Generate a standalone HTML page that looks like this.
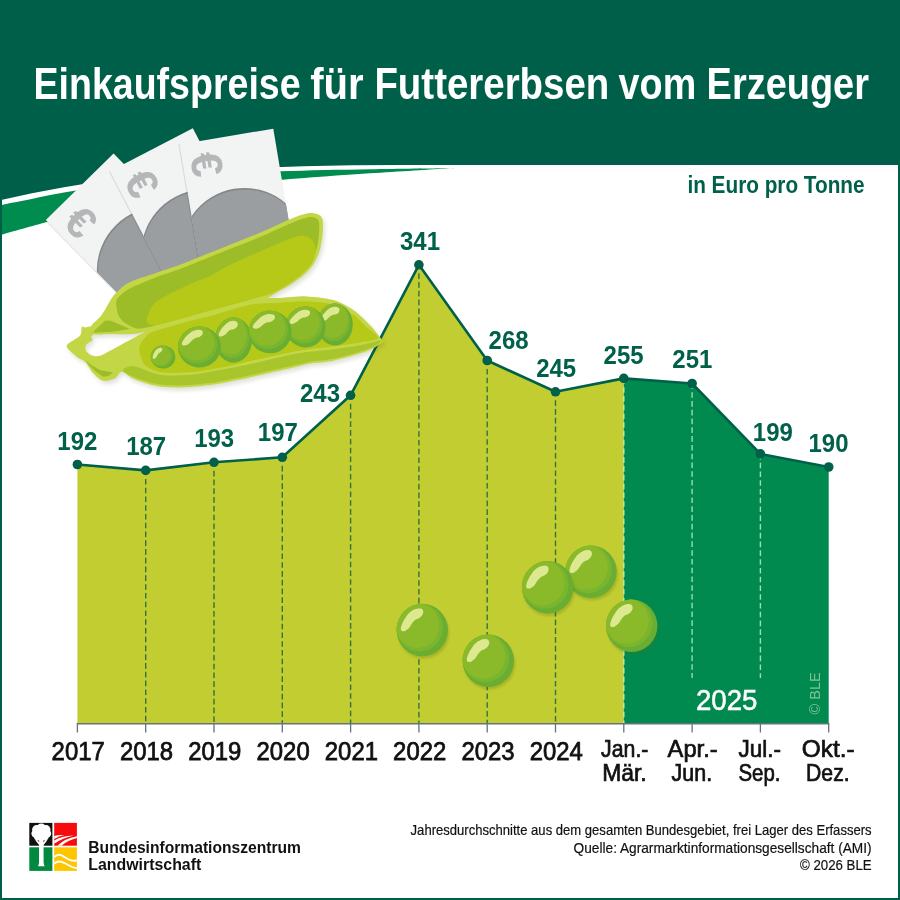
<!DOCTYPE html>
<html lang="de">
<head>
<meta charset="utf-8">
<title>Einkaufspreise für Futtererbsen vom Erzeuger</title>
<style>
html,body{margin:0;padding:0;background:#fff;width:900px;height:900px;overflow:hidden}
svg{display:block}
text{font-family:"Liberation Sans",sans-serif}
.b{font-weight:bold}
</style>
</head>
<body>
<svg width="900" height="900" viewBox="0 0 900 900">
<rect width="900" height="900" fill="#fff"/>
<!-- header -->
<path d="M0,0H900V165H450C300,165 150,165 0,200.3Z" fill="#005f49"/>
<path d="M0,205.2C5.8,204 23.3,200.5 35,198.2C46.7,195.9 52.5,194.4 70,191.5C87.5,188.6 116.7,183.8 140,181C163.3,178.2 186.7,176.4 210,174.8C233.3,173.2 253.3,172.1 280,171.2C306.7,170.3 342.2,169.7 370,169.2C397.8,168.7 434.2,168.3 447,168.2C459.8,168.1 459.8,167.6 447,168.4C434.2,169.2 397.8,171.4 370,173.3C342.2,175.2 306.7,177.6 280,180C253.3,182.4 233.3,184.4 210,187.5C186.7,190.6 160,194.8 140,198.5C120,202.2 105.8,206 90,210C74.2,214 60,218.2 45,222.4C30,226.6 7.5,232.9 0,235Z" fill="#008c4e"/>
<path d="M0,0H900V900H0Z M2,2V898H898V2Z" fill="#005f49" fill-rule="evenodd"/>
<rect x="0" y="0" width="900" height="20" fill="#005f49"/>
<!-- title -->
<text x="33.5" y="98.8" font-size="43.6" fill="#fff" textLength="267.1" lengthAdjust="spacingAndGlyphs" class="b">Einkaufspreise</text>
<text x="310.2" y="98.8" font-size="43.6" fill="#fff" textLength="53.5" lengthAdjust="spacingAndGlyphs" class="b">für</text>
<text x="374.4" y="98.8" font-size="43.6" fill="#fff" textLength="234.9" lengthAdjust="spacingAndGlyphs" class="b">Futtererbsen</text>
<text x="618.6" y="98.8" font-size="43.6" fill="#fff" textLength="77.6" lengthAdjust="spacingAndGlyphs" class="b">vom</text>
<text x="706.6" y="98.8" font-size="43.6" fill="#fff" textLength="162.4" lengthAdjust="spacingAndGlyphs" class="b">Erzeuger</text>
<text x="687.4" y="192.6" font-size="24" fill="#00604a" textLength="177.2" lengthAdjust="spacingAndGlyphs" class="b">in Euro pro Tonne</text>
<!-- chart -->
<path d="M77.4,723.2L77.4,464.5L145.7,470.4L214,462.3L282.3,457.3L350.6,395.3L418.9,264.8L487.2,360.5L555.5,391.8L623.8,378.4L623.8,723.2Z" fill="#c2cd32"/>
<path d="M623.8,723.2L623.8,378.4L692.1,383.5L760.4,453.9L828.7,467L828.7,723.2Z" fill="#008a4f"/>
<line x1="145.7" y1="478.9" x2="145.7" y2="723.2" stroke="#33743b" stroke-width="1.4" stroke-dasharray="5.6 3.17"/>
<line x1="214" y1="470.8" x2="214" y2="723.2" stroke="#33743b" stroke-width="1.4" stroke-dasharray="5.6 3.17"/>
<line x1="282.3" y1="465.8" x2="282.3" y2="723.2" stroke="#33743b" stroke-width="1.4" stroke-dasharray="5.6 3.17"/>
<line x1="350.6" y1="403.8" x2="350.6" y2="723.2" stroke="#33743b" stroke-width="1.4" stroke-dasharray="5.6 3.17"/>
<line x1="418.9" y1="273.3" x2="418.9" y2="723.2" stroke="#33743b" stroke-width="1.4" stroke-dasharray="5.6 3.17"/>
<line x1="487.2" y1="369" x2="487.2" y2="723.2" stroke="#33743b" stroke-width="1.4" stroke-dasharray="5.6 3.17"/>
<line x1="555.5" y1="400.3" x2="555.5" y2="723.2" stroke="#33743b" stroke-width="1.4" stroke-dasharray="5.6 3.17"/>
<line x1="623.8" y1="378.4" x2="623.8" y2="723.2" stroke="#b5eebc" stroke-width="1.4" stroke-dasharray="5.6 3.17"/>
<line x1="692.1" y1="383.5" x2="692.1" y2="678" stroke="#93e2aa" stroke-width="1.4" stroke-dasharray="5.6 3.17"/>
<line x1="760.4" y1="453.9" x2="760.4" y2="678" stroke="#93e2aa" stroke-width="1.4" stroke-dasharray="5.6 3.17"/>
<path d="M76.8,723.8H829.3" stroke="#66737f" stroke-width="1.5" fill="none"/>
<path d="M77.4,723.2V732.6M145.7,723.2V732.6M214,723.2V732.6M282.3,723.2V732.6M350.6,723.2V732.6M418.9,723.2V732.6M487.2,723.2V732.6M555.5,723.2V732.6M623.8,723.2V732.6M692.1,723.2V732.6M760.4,723.2V732.6M828.7,723.2V732.6" stroke="#66737f" stroke-width="1.3" fill="none"/>
<polyline points="77.4,464.5 145.7,470.4 214,462.3 282.3,457.3 350.6,395.3 418.9,264.8 487.2,360.5 555.5,391.8 623.8,378.4 692.1,383.5 760.4,453.9 828.7,467" fill="none" stroke="#00604a" stroke-width="2.6" stroke-linejoin="round"/>
<circle cx="77.4" cy="464.5" r="4.8" fill="#00604a"/>
<circle cx="145.7" cy="470.4" r="4.8" fill="#00604a"/>
<circle cx="214" cy="462.3" r="4.8" fill="#00604a"/>
<circle cx="282.3" cy="457.3" r="4.8" fill="#00604a"/>
<circle cx="350.6" cy="395.3" r="4.8" fill="#00604a"/>
<circle cx="418.9" cy="264.8" r="4.8" fill="#00604a"/>
<circle cx="487.2" cy="360.5" r="4.8" fill="#00604a"/>
<circle cx="555.5" cy="391.8" r="4.8" fill="#00604a"/>
<circle cx="623.8" cy="378.4" r="4.8" fill="#00604a"/>
<circle cx="692.1" cy="383.5" r="4.8" fill="#00604a"/>
<circle cx="760.4" cy="453.9" r="4.8" fill="#00604a"/>
<circle cx="828.7" cy="467" r="4.8" fill="#00604a"/>
<text x="57.3" y="449.7" font-size="25" fill="#00604a" textLength="40" lengthAdjust="spacingAndGlyphs" class="b">192</text>
<text x="126.2" y="455" font-size="25" fill="#00604a" textLength="40" lengthAdjust="spacingAndGlyphs" class="b">187</text>
<text x="194.2" y="446.7" font-size="25" fill="#00604a" textLength="40" lengthAdjust="spacingAndGlyphs" class="b">193</text>
<text x="257.8" y="440.7" font-size="25" fill="#00604a" textLength="40" lengthAdjust="spacingAndGlyphs" class="b">197</text>
<text x="300" y="401.6" font-size="25" fill="#00604a" textLength="40" lengthAdjust="spacingAndGlyphs" class="b">243</text>
<text x="400" y="249.8" font-size="25" fill="#00604a" textLength="40" lengthAdjust="spacingAndGlyphs" class="b">341</text>
<text x="488.6" y="349.1" font-size="25" fill="#00604a" textLength="40" lengthAdjust="spacingAndGlyphs" class="b">268</text>
<text x="536.2" y="376.5" font-size="25" fill="#00604a" textLength="40" lengthAdjust="spacingAndGlyphs" class="b">245</text>
<text x="603.6" y="363.6" font-size="25" fill="#00604a" textLength="40" lengthAdjust="spacingAndGlyphs" class="b">255</text>
<text x="672.3" y="368" font-size="25" fill="#00604a" textLength="40" lengthAdjust="spacingAndGlyphs" class="b">251</text>
<text x="752.8" y="440.5" font-size="25" fill="#00604a" textLength="40" lengthAdjust="spacingAndGlyphs" class="b">199</text>
<text x="808.5" y="452" font-size="25" fill="#00604a" textLength="40" lengthAdjust="spacingAndGlyphs" class="b">190</text>
<text x="51.6" y="759.8" font-size="25.4" fill="#111" textLength="53.2" lengthAdjust="spacingAndGlyphs" stroke="#111" stroke-width="0.75">2017</text>
<text x="119.9" y="759.8" font-size="25.4" fill="#111" textLength="53.2" lengthAdjust="spacingAndGlyphs" stroke="#111" stroke-width="0.75">2018</text>
<text x="188.2" y="759.8" font-size="25.4" fill="#111" textLength="53.2" lengthAdjust="spacingAndGlyphs" stroke="#111" stroke-width="0.75">2019</text>
<text x="256.5" y="759.8" font-size="25.4" fill="#111" textLength="53.2" lengthAdjust="spacingAndGlyphs" stroke="#111" stroke-width="0.75">2020</text>
<text x="324.8" y="759.8" font-size="25.4" fill="#111" textLength="53.2" lengthAdjust="spacingAndGlyphs" stroke="#111" stroke-width="0.75">2021</text>
<text x="393.1" y="759.8" font-size="25.4" fill="#111" textLength="53.2" lengthAdjust="spacingAndGlyphs" stroke="#111" stroke-width="0.75">2022</text>
<text x="461.4" y="759.8" font-size="25.4" fill="#111" textLength="53.2" lengthAdjust="spacingAndGlyphs" stroke="#111" stroke-width="0.75">2023</text>
<text x="529.7" y="759.8" font-size="25.4" fill="#111" textLength="53.2" lengthAdjust="spacingAndGlyphs" stroke="#111" stroke-width="0.75">2024</text>
<text x="601.1" y="757" font-size="23.6" fill="#111" textLength="47.3" lengthAdjust="spacingAndGlyphs" stroke="#111" stroke-width="0.7">Jan.-</text>
<text x="602.2" y="780.6" font-size="23.6" fill="#111" textLength="44.5" lengthAdjust="spacingAndGlyphs" stroke="#111" stroke-width="0.7">Mär.</text>
<text x="667.6" y="757" font-size="23.6" fill="#111" textLength="50" lengthAdjust="spacingAndGlyphs" stroke="#111" stroke-width="0.7">Apr.-</text>
<text x="671.6" y="780.6" font-size="23.6" fill="#111" textLength="40.5" lengthAdjust="spacingAndGlyphs" stroke="#111" stroke-width="0.7">Jun.</text>
<text x="738.6" y="757" font-size="23.6" fill="#111" textLength="42.5" lengthAdjust="spacingAndGlyphs" stroke="#111" stroke-width="0.7">Jul.-</text>
<text x="738.5" y="780.6" font-size="23.6" fill="#111" textLength="42" lengthAdjust="spacingAndGlyphs" stroke="#111" stroke-width="0.7">Sep.</text>
<text x="801.8" y="757" font-size="23.6" fill="#111" textLength="52.8" lengthAdjust="spacingAndGlyphs" stroke="#111" stroke-width="0.7">Okt.-</text>
<text x="806.1" y="780.6" font-size="23.6" fill="#111" textLength="43.5" lengthAdjust="spacingAndGlyphs" stroke="#111" stroke-width="0.7">Dez.</text>
<text x="695.9" y="709.7" font-size="28.6" fill="#fff" textLength="61.5" lengthAdjust="spacingAndGlyphs" stroke="#fff" stroke-width="0.5">2025</text>
<text transform="translate(819.6,714.4) rotate(-90)" font-size="14.3" fill="#7fc596" textLength="42" lengthAdjust="spacingAndGlyphs">© BLE</text>
<!-- footer -->
<text x="88.3" y="852.7" font-size="17" fill="#111" textLength="212.7" lengthAdjust="spacingAndGlyphs" class="b">Bundesinformationszentrum</text>
<text x="88.3" y="870.4" font-size="17" fill="#111" textLength="113" lengthAdjust="spacingAndGlyphs" class="b">Landwirtschaft</text>
<text x="410.6" y="835.3" font-size="15" fill="#111" textLength="461" lengthAdjust="spacingAndGlyphs" stroke="#111" stroke-width="0.2">Jahresdurchschnitte aus dem gesamten Bundesgebiet, frei Lager des Erfassers</text>
<text x="573.6" y="852.7" font-size="15" fill="#111" textLength="298" lengthAdjust="spacingAndGlyphs" stroke="#111" stroke-width="0.2">Quelle: Agrarmarktinformationsgesellschaft (AMI)</text>
<text x="800" y="870.3" font-size="15" fill="#111" textLength="71.6" lengthAdjust="spacingAndGlyphs" stroke="#111" stroke-width="0.2">© 2026 BLE</text>
<!-- illustrations -->
<defs><clipPath id="pc"><circle r="1"/></clipPath><g id="pea"><circle r="1" fill="#6aad33"/><g clip-path="url(#pc)"><ellipse cx="-0.11" cy="-0.10" rx="0.92" ry="0.92" fill="#79b52e"/><ellipse cx="-0.19" cy="-0.17" rx="0.85" ry="0.86" fill="#8aba29"/></g><path d="M-0.836,-0.015C-0.841,-0.052 -0.831,-0.112 -0.806,-0.179C-0.781,-0.246 -0.737,-0.338 -0.687,-0.418C-0.637,-0.498 -0.572,-0.595 -0.507,-0.657C-0.442,-0.719 -0.373,-0.764 -0.299,-0.791C-0.224,-0.818 -0.115,-0.831 -0.06,-0.821C-0.005,-0.811 0.018,-0.768 0.03,-0.731C0.042,-0.694 0.035,-0.639 0.015,-0.597C-0.005,-0.555 -0.043,-0.513 -0.09,-0.478C-0.137,-0.443 -0.219,-0.423 -0.269,-0.388C-0.319,-0.353 -0.348,-0.319 -0.388,-0.269C-0.428,-0.219 -0.462,-0.14 -0.507,-0.09C-0.552,-0.04 -0.612,0.007 -0.657,0.03C-0.702,0.052 -0.746,0.052 -0.776,0.045C-0.806,0.037 -0.831,0.022 -0.836,-0.015Z" fill="#dde991"/></g><clipPath id="nc"><rect width="95" height="150"/></clipPath><filter id="bl" x="-20%" y="-20%" width="140%" height="140%"><feGaussianBlur stdDeviation="1.2"/></filter><filter id="bl2" x="-10%" y="-10%" width="120%" height="120%"><feGaussianBlur stdDeviation="2"/></filter></defs>
<g id="notes">
<g transform="translate(45.8,220) rotate(-44.5)">
<rect x="-1.2" y="0" width="3" height="150" fill="#000" opacity="0.10"/>
<rect width="95" height="150" fill="#f2f3f3"/>
<g clip-path="url(#nc)"><circle cx="46.3" cy="116.3" r="63.5" fill="#85888a"/><circle cx="46.3" cy="118" r="63.5" fill="#9b9ea0"/></g>
<text class="b" transform="translate(24.2,25.9) rotate(90)" x="0" y="16" text-anchor="middle" font-size="44" fill="#b4b6b8">€</text>
</g>
<g transform="translate(110,171.3) rotate(-27.5)">
<rect x="-1.2" y="0" width="3" height="150" fill="#000" opacity="0.10"/>
<rect width="93.4" height="150" fill="#f2f3f3"/>
<g clip-path="url(#nc)"><circle cx="46.3" cy="116.3" r="63.5" fill="#85888a"/><circle cx="46.3" cy="118" r="63.5" fill="#9b9ea0"/></g>
<text class="b" transform="translate(23.4,25.5) rotate(90)" x="0" y="16" text-anchor="middle" font-size="44" fill="#b4b6b8">€</text>
</g>
<g transform="translate(179.6,144.4) rotate(-9.5)">
<rect x="-1.2" y="0" width="3" height="150" fill="#000" opacity="0.10"/>
<rect width="95" height="150" fill="#f2f3f3"/>
<g clip-path="url(#nc)"><circle cx="46.3" cy="116.3" r="63.5" fill="#85888a"/><circle cx="46.3" cy="118" r="63.5" fill="#9b9ea0"/></g>
<text class="b" transform="translate(24.2,24) rotate(90)" x="0" y="16" text-anchor="middle" font-size="44" fill="#b4b6b8">€</text>
</g>
</g>
<g id="pod">
<g transform="translate(2,3)" fill="#3a4a10" opacity="0.16" filter="url(#bl2)"><path d="M90.8,326.7C92.2,323.5 98.2,319.7 101.7,315C105.2,310.3 108.9,302.3 111.7,298.3C114.5,294.3 115.2,293.5 118.3,290.8C121.3,288.1 123.6,285 130,282C136.4,279 147.8,275.8 156.7,272.7C165.6,269.6 176.1,266.2 183.3,263.5C190.5,260.8 192.2,259.8 200,256.7C207.8,253.6 220,248.7 230,244.7C240,240.7 250,236.9 260,232.7C270,228.5 282.5,222.4 290,219.3C297.5,216.2 301,215 305,214C309,213 311.3,212.9 314,213.3C316.7,213.7 319.5,214.6 321,216.5C322.5,218.4 322.9,220.2 323,224.5C323.1,228.8 322.5,237 321.5,242.5C320.5,248 319.2,252.8 317,257.5C314.8,262.2 312,266.8 308,271C304,275.2 298.5,279.2 293,283C287.5,286.8 279.4,290.9 275,293.5C270.6,296.1 270.9,296.7 266.7,298.3C262.5,299.9 261.1,299.9 250,303C238.9,306.1 217.5,312.2 200,317C182.5,321.8 156.7,328.9 145,331.7C133.3,334.5 135.8,333.6 130,334C124.2,334.4 116.1,334 110,334C103.9,334 96.5,335.2 93.3,334C90.1,332.8 89.4,329.9 90.8,326.7Z"/><path d="M66.7,345.8C67.2,342.8 77.9,338.5 80,335.8C82.1,333.1 81,328.2 81.7,327C82.4,325.8 83.7,327.5 85,327.5C86.3,327.5 89.6,325.8 90.8,326.7C92,327.6 93.3,332.5 93.3,334C93.3,335.5 91.1,336.1 91,337C90.9,337.9 93.2,338.9 92.5,340C91.8,341.1 86.9,343.4 86,345C85.1,346.6 85.1,349.5 86,351C86.9,352.5 90,354.8 92,355.5C94,356.2 97.4,356.5 100,355.8C102.6,355.1 106.2,352.8 110,350.8C113.8,348.8 121.7,344.4 126.7,341.7C131.7,339 141.7,333.8 145,331.7C148.3,329.6 144.5,329.2 150,327.3C155.5,325.4 174.7,320.9 183.3,318.7C191.9,316.5 200.5,314.6 210,312C219.5,309.4 241.9,302.7 250,300.7C258.1,298.7 262.4,298.7 266.7,298.3C271,297.9 274.3,298.3 280,298C285.7,297.7 299.1,296.1 306.7,296.4C314.3,296.7 326.6,298.1 333.3,300C340,301.9 348,306.3 353.3,310C358.6,313.7 366.7,321.9 370.7,326C374.7,330.1 379.3,336.3 381,338.5C382.7,340.7 382.9,340.7 382.8,341.5C382.7,342.3 382.3,342.6 380,344C377.7,345.4 373.4,348.9 366.7,351.3C360,353.7 341.4,358.9 333.3,360.7C325.2,362.5 315.2,362.7 310,363.6C304.8,364.5 302.4,365.4 296.7,366.7C291,368 277.6,371 270,372.7C262.4,374.4 250.9,377.1 243.3,378.7C235.7,380.3 224.3,382.8 216.7,384C209.1,385.2 196.7,386.5 190,387C183.3,387.5 175.2,387.5 170,387.3C164.8,387.1 158.5,386.5 153.3,385.3C148.1,384.1 137.8,380.6 133.3,378.7C128.8,376.8 124.3,371.8 121.7,371.7C119.1,371.6 117.6,377 115,378.3C112.4,379.6 106.4,381.5 103.3,380.8C100.2,380.1 95.9,376 93.3,373.3C90.7,370.6 87.4,364.1 85,361.7C82.6,359.3 79.3,359 76.7,356.7C74.1,354.4 66.2,348.8 66.7,345.8Z"/></g>
<path d="M90.8,326.7C92.2,323.5 98.2,319.7 101.7,315C105.2,310.3 108.9,302.3 111.7,298.3C114.5,294.3 115.2,293.5 118.3,290.8C121.3,288.1 123.6,285 130,282C136.4,279 147.8,275.8 156.7,272.7C165.6,269.6 176.1,266.2 183.3,263.5C190.5,260.8 192.2,259.8 200,256.7C207.8,253.6 220,248.7 230,244.7C240,240.7 250,236.9 260,232.7C270,228.5 282.5,222.4 290,219.3C297.5,216.2 301,215 305,214C309,213 311.3,212.9 314,213.3C316.7,213.7 319.5,214.6 321,216.5C322.5,218.4 322.9,220.2 323,224.5C323.1,228.8 322.5,237 321.5,242.5C320.5,248 319.2,252.8 317,257.5C314.8,262.2 312,266.8 308,271C304,275.2 298.5,279.2 293,283C287.5,286.8 279.4,290.9 275,293.5C270.6,296.1 270.9,296.7 266.7,298.3C262.5,299.9 261.1,299.9 250,303C238.9,306.1 217.5,312.2 200,317C182.5,321.8 156.7,328.9 145,331.7C133.3,334.5 135.8,333.6 130,334C124.2,334.4 116.1,334 110,334C103.9,334 96.5,335.2 93.3,334C90.1,332.8 89.4,329.9 90.8,326.7Z" fill="#c3d646"/>
<path d="M116.7,300C117.8,297.5 120.3,295.2 123,293C125.7,290.8 127.2,289.7 133,287C138.8,284.3 149,280.1 157.5,276.8C166,273.6 176.8,270.2 184,267.5C191.2,264.8 193.2,263.8 201,260.6C208.8,257.5 221,252.6 231,248.6C241,244.6 251,240.8 261,236.6C271,232.4 283.6,226.4 291,223.3C298.4,220.2 301.8,219 305.5,218C309.2,217 310.9,216.9 313,217.2C315.1,217.5 316.9,218.5 318,220C319.1,221.5 319.3,222.3 319.3,226C319.3,229.7 318.9,236.9 318,242C317.1,247.1 315.8,252 313.7,256.5C311.6,261 309.2,265 305.5,269C301.8,273 296.8,276.9 291.5,280.5C286.2,284.1 278.4,288.1 274,290.5C269.6,292.9 277.3,291.2 265,295C252.7,298.8 219.7,307.6 200,313C180.3,318.4 158.1,325.2 146.7,327.5C135.3,329.8 136.1,328.3 131.7,326.7C127.2,325.1 122.5,321.1 120,318C117.5,314.9 117.2,311 116.7,308C116.2,305 115.7,302.5 116.7,300Z" fill="#9dbd28"/>
<path d="M147.3,322.7C145.4,320.8 147.6,316.4 148.7,313.3C149.8,310.2 151.6,306.7 154,304C156.4,301.3 158.4,300.1 163.3,297.3C168.2,294.5 177.2,290.2 183.3,287.3C189.4,284.4 195.6,281.9 200,280C204.4,278.1 205,278.5 210,276C215,273.5 221.7,269.1 230,265C238.3,260.9 250,255.9 260,251.5C270,247.1 283,241.3 290,238.7C297,236.1 298.5,235.7 302,235.7C305.5,235.7 308.8,236.6 311,238.7C313.2,240.8 315.2,244.6 315.5,248.5C315.8,252.4 314.5,258 312.5,262C310.5,266 307.2,269 303.5,272.5C299.8,276 295.2,279.6 290,283C284.8,286.4 278.7,290.4 272,293.2C265.3,295.9 262,296.1 250,299.5C238,302.9 215,309.3 200,313.5C185,317.7 168.8,323 160,324.5C151.2,326 149.2,324.6 147.3,322.7Z" fill="#b7c918"/>
<path d="M66.7,345.8C67.2,342.8 77.9,338.5 80,335.8C82.1,333.1 81,328.2 81.7,327C82.4,325.8 83.7,327.5 85,327.5C86.3,327.5 89.6,325.8 90.8,326.7C92,327.6 93.3,332.5 93.3,334C93.3,335.5 91.1,336.1 91,337C90.9,337.9 93.2,338.9 92.5,340C91.8,341.1 86.9,343.4 86,345C85.1,346.6 85.1,349.5 86,351C86.9,352.5 90,354.8 92,355.5C94,356.2 97.4,356.5 100,355.8C102.6,355.1 106.2,352.8 110,350.8C113.8,348.8 121.7,344.4 126.7,341.7C131.7,339 141.7,333.8 145,331.7C148.3,329.6 144.5,329.2 150,327.3C155.5,325.4 174.7,320.9 183.3,318.7C191.9,316.5 200.5,314.6 210,312C219.5,309.4 241.9,302.7 250,300.7C258.1,298.7 262.4,298.7 266.7,298.3C271,297.9 274.3,298.3 280,298C285.7,297.7 299.1,296.1 306.7,296.4C314.3,296.7 326.6,298.1 333.3,300C340,301.9 348,306.3 353.3,310C358.6,313.7 366.7,321.9 370.7,326C374.7,330.1 379.3,336.3 381,338.5C382.7,340.7 382.9,340.7 382.8,341.5C382.7,342.3 382.3,342.6 380,344C377.7,345.4 373.4,348.9 366.7,351.3C360,353.7 341.4,358.9 333.3,360.7C325.2,362.5 315.2,362.7 310,363.6C304.8,364.5 302.4,365.4 296.7,366.7C291,368 277.6,371 270,372.7C262.4,374.4 250.9,377.1 243.3,378.7C235.7,380.3 224.3,382.8 216.7,384C209.1,385.2 196.7,386.5 190,387C183.3,387.5 175.2,387.5 170,387.3C164.8,387.1 158.5,386.5 153.3,385.3C148.1,384.1 137.8,380.6 133.3,378.7C128.8,376.8 124.3,371.8 121.7,371.7C119.1,371.6 117.6,377 115,378.3C112.4,379.6 106.4,381.5 103.3,380.8C100.2,380.1 95.9,376 93.3,373.3C90.7,370.6 87.4,364.1 85,361.7C82.6,359.3 79.3,359 76.7,356.7C74.1,354.4 66.2,348.8 66.7,345.8Z" fill="#c3d646"/>
<path d="M92.5,332.5L105,320.8Q110,320 115,322.5L130,329Q112,332.5 92.5,332.5Z" fill="#9dbd28"/>
<path d="M85,360Q92,366 100,370L113,372.5Q109,377 103,376.7Q92,370 85,360Z" fill="#9dbd28"/>
<path d="M122.7,370.5C122.2,368.9 128.2,366.4 130.7,366C133.2,365.6 136.8,367 140,368C143.2,369 149.5,371.9 153.3,373C157.1,374.1 161,375.3 166.7,375.5C172.4,375.7 186.2,375.3 193.3,374.6C200.4,373.9 209.6,371.9 216.7,370.6C223.8,369.3 235.7,367.1 243.3,365.5C250.9,363.9 262.4,361.2 270,359.5C277.6,357.8 287.7,355 296.7,353.5C305.7,352 324.3,350.5 333.3,349.3C342.3,348.1 353.5,346.5 360,345.3C366.5,344.1 375.6,341.4 378.5,341C381.4,340.6 382.2,341 380.5,342.2C378.8,343.4 373.4,347.1 366.7,349.5C360,351.9 341.4,357.1 333.3,358.8C325.2,360.5 315.2,360.8 310,361.7C304.8,362.6 302.4,363.5 296.7,364.8C291,366.1 277.6,369.1 270,370.8C262.4,372.5 250.9,375.2 243.3,376.8C235.7,378.4 224.3,380.8 216.7,382C209.1,383.2 196.7,384.5 190,385C183.3,385.5 175.2,385.5 170,385.3C164.8,385.1 158.4,384.5 153.3,383.3C148.2,382.1 138.4,378.8 134,377C129.6,375.2 123.2,372.1 122.7,370.5Z" fill="#a8c62c"/>
<path d="M139.3,350.7C138.9,347.7 140,345 141,343C142,341 144.4,338.6 146,337C147.6,335.4 146.7,334 152,332C157.3,330 175,325 183.3,322.7C191.6,320.4 200.5,318.6 210,316C219.5,313.4 240,306.6 250,304.7C260,302.8 271.9,303.2 280,302.7C288.1,302.2 299.1,301 306.7,301.3C314.3,301.6 326.6,302.8 333.3,304.7C340,306.6 348.5,311.5 353.3,314.7C358.1,317.9 363.2,324 366.7,327.3C370.2,330.6 379,335.8 378,338C377,340.2 366.4,341.3 360,342.5C353.6,343.7 341.9,345.4 333.3,346.5C324.7,347.6 309,349 300,350.5C291,352 278.1,355 270,356.7C261.9,358.4 250.4,361.1 243.3,362.7C236.2,364.3 227.1,366.5 220,367.8C212.9,369.1 200.9,371.3 193.3,372C185.7,372.7 172.4,373 166.7,372.7C161,372.4 156.5,371.2 153.3,370C150.1,368.8 146,366.8 144,364C142,361.2 139.7,353.7 139.3,350.7Z" fill="#b7c918"/>
<use href="#pea" transform="translate(335,324.5) scale(17.8,21) rotate(18)"/>
<use href="#pea" transform="translate(305.5,327) scale(20,20.5) rotate(16)"/>
<use href="#pea" transform="translate(233.5,340) scale(18.5,22.7) rotate(16)"/>
<use href="#pea" transform="translate(270,332) scale(21.6,21.3) rotate(16)"/>
<use href="#pea" transform="translate(199.5,347) scale(21.5,20.5) rotate(10)"/>
<use href="#pea" transform="translate(163,357) scale(12.3,11.5) rotate(-8)"/>
</g>
<g id="peas">
<ellipse cx="592.3" cy="574.8" rx="25.7" ry="25.7" fill="#56700c" opacity="0.25" filter="url(#bl)"/><use href="#pea" transform="translate(591,571.7) scale(25.7,26.2) rotate(0)"/>
<ellipse cx="549" cy="590.4" rx="25.7" ry="25.7" fill="#56700c" opacity="0.25" filter="url(#bl)"/><use href="#pea" transform="translate(547.7,587.3) scale(25.7,26.2) rotate(0)"/>
<ellipse cx="423.6" cy="633.1" rx="25.7" ry="25.7" fill="#56700c" opacity="0.25" filter="url(#bl)"/><use href="#pea" transform="translate(422.3,630) scale(25.7,26.2) rotate(0)"/>
<ellipse cx="489.6" cy="663.8" rx="25.7" ry="25.7" fill="#56700c" opacity="0.25" filter="url(#bl)"/><use href="#pea" transform="translate(488.3,660.7) scale(25.7,26.2) rotate(0)"/>
<ellipse cx="633" cy="628.8" rx="25.7" ry="25.7" fill="#56700c" opacity="0.25" filter="url(#bl)"/><use href="#pea" transform="translate(631.7,625.7) scale(25.7,26.2) rotate(0)"/>
</g>
<g id="logo">
<rect x="29.3" y="822.9" width="23.1" height="22.8" fill="#111"/>
<rect x="54.2" y="822.9" width="22.7" height="22.8" fill="#f60c0c"/>
<rect x="29.3" y="847.3" width="23.1" height="23.6" fill="#00893f"/>
<rect x="54.2" y="847.3" width="22.7" height="23.6" fill="#ffc500"/>
<g fill="#fff"><circle cx="41.3" cy="828.6" r="5"/><circle cx="36.6" cy="829.6" r="4.5"/><circle cx="46" cy="829.6" r="4.5"/><circle cx="35.6" cy="833.6" r="4.2"/><circle cx="47" cy="833.6" r="4.2"/><circle cx="38" cy="836.6" r="4"/><circle cx="44.6" cy="836.6" r="4"/><circle cx="41.3" cy="832.6" r="6.5"/><path d="M39.1,838H43.5L43.6,862.5Q43.8,865 44.7,866.2H37.9Q38.8,865 39,862.5Z"/><path d="M35.4,840.6L36.8,839.6L40.4,843.6V846.4Z M47.2,840.4L45.8,839.4L42.4,843.6V846.4Z"/></g>
<g fill="#fff"><path d="M54.2,836Q59,834.5 64.2,835Q59,836.2 54.2,838.9Z"/><path d="M54.2,840.4Q61,836 73.8,835.5Q62.5,838 54.2,843.7Z"/><path d="M57.4,845.7Q64.5,838.5 76.9,836.2V838Q67,840.6 61.6,845.7Z"/></g>
<g fill="none" stroke="#fff" stroke-linecap="butt"><path d="M54.2,857.2C57,854 60,854 63.5,856.4S71,861.8 76.9,860.6" stroke-width="2"/><path d="M54.2,863.6C57,861 61,861 65,863.2S72,867.8 76.9,868" stroke-width="1.8"/></g>
</g>
</svg>
</body>
</html>
